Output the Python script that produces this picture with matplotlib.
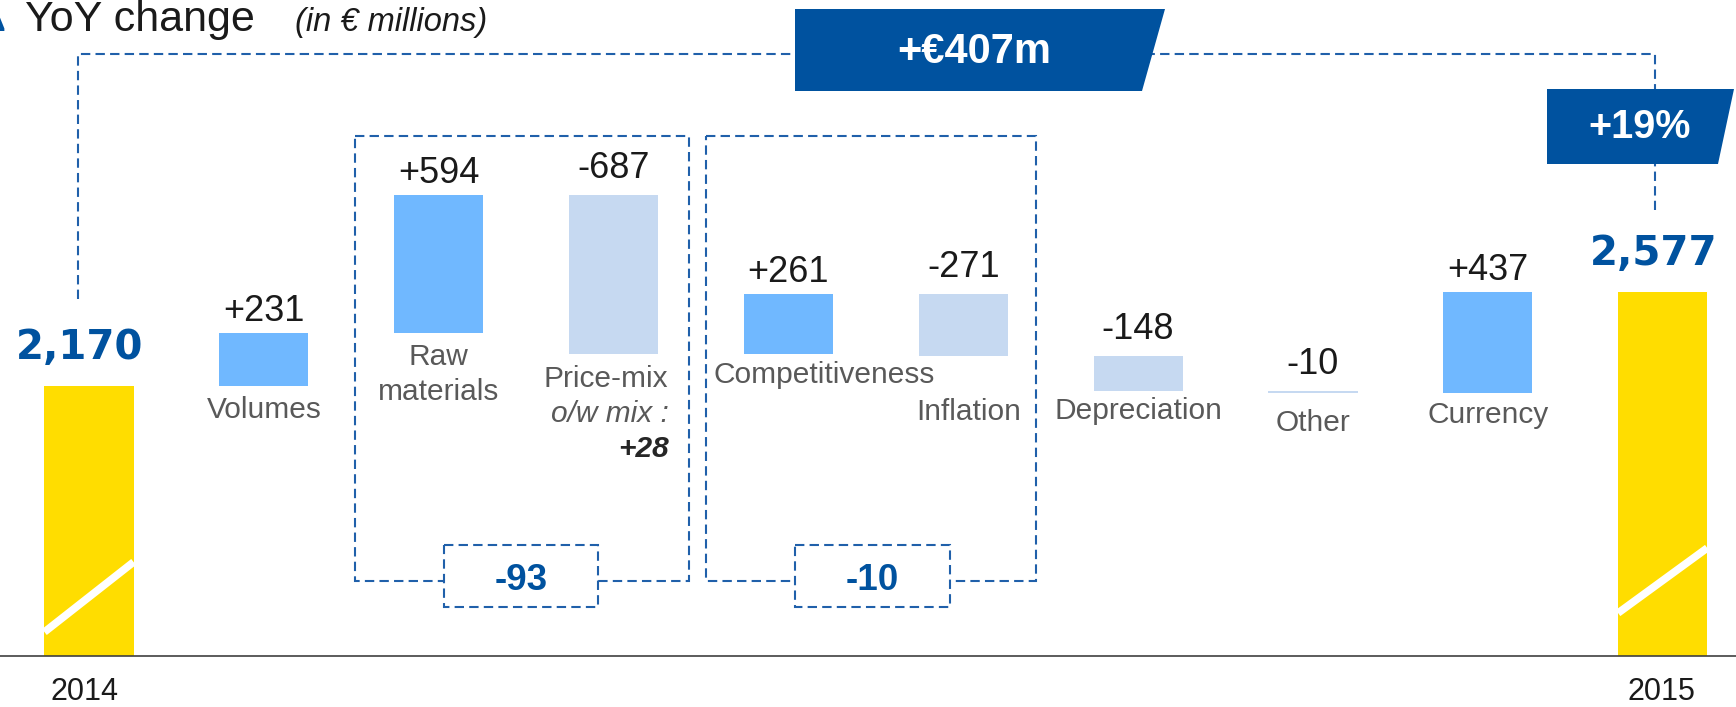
import matplotlib
matplotlib.use("Agg")
import matplotlib.pyplot as plt
from matplotlib.patches import Rectangle, Polygon
import numpy as np

# ---------------- data ----------------
year_labels = ["2014", "2015"]
start_total = 2170
end_total = 2577
categories = ["Volumes", "Raw\nmaterials", "Price-mix", "Competitiveness",
              "Inflation", "Depreciation", "Other", "Currency"]
deltas = [231, 594, -687, 261, -271, -148, -10, 437]
mix_effect = 28
group_members = [[1, 2], [3, 4]]   # indexes into deltas

# ---------------- style / layout ----------------
W, H, DPI = 1736, 707, 100
PT = DPI / 72.0
YELLOW = "#FFDD00"
POS = "#70B8FF"
NEG = "#C6D9F1"
DARK = "#00529F"
DASH = "#2060AA"
GREY = "#595959"
INK = "#1A1A1A"
plt.rcParams["font.family"] = ["Liberation Sans", "DejaVu Sans"]
DASHES = (0, (4.5, 2.5))

AXIS_PX = 656
PX_PER_UNIT = 0.2313
VAL_AT_TOP = 3839
X0, DX = 89, 174.85
BAR_W = 0.51

fig = plt.figure(figsize=(W / DPI, H / DPI), dpi=DPI)
ax = fig.add_axes([0, 1 - AXIS_PX / H, 1, AXIS_PX / H])
ax.set_xlim(-X0 / DX, (W - X0) / DX)
ybase = VAL_AT_TOP - AXIS_PX / PX_PER_UNIT
ax.set_ylim(ybase, VAL_AT_TOP)
for s in ["top", "left", "right"]:
    ax.spines[s].set_visible(False)
ax.spines["bottom"].set_color("#404040")
ax.spines["bottom"].set_linewidth(1.2)
ax.set_xticks([])
ax.set_yticks([])
ax.patch.set_alpha(0)

n = len(deltas)
xs = np.arange(1, n + 1)
ends = start_total + np.cumsum(deltas)
starts = np.r_[start_total, ends[:-1]]
lows = np.minimum(starts, ends)
highs = np.maximum(starts, ends)
total_x = [0, n + 1]
totals = [start_total, end_total]

ax.bar(total_x, totals, width=BAR_W, color=YELLOW, linewidth=0)
ax.bar(xs, np.abs(deltas), bottom=lows, width=BAR_W,
       color=[POS if d > 0 else NEG for d in deltas], linewidth=0)

# value labels
for x, d, hi in zip(xs, deltas, highs):
    off = 12 if d > 0 else 17
    ax.annotate(f"{d:+d}", (x, hi), xytext=(0, off / PT), textcoords="offset points",
                ha="center", va="baseline", fontsize=26, color=INK, annotation_clip=False)

# totals
for x, v in zip(total_x, totals):
    ax.annotate(f"{v:,}", (x, v), xytext=(-9 / PT, 27 / PT), textcoords="offset points",
                ha="center", va="baseline", fontsize=29, fontweight="bold",
                family="DejaVu Sans", color=DARK, annotation_clip=False)

# years
year_shift = [-5, -1]
for x, lab, sh in zip(total_x, year_labels, year_shift):
    ax.annotate(lab, (x, ybase), xytext=(sh / PT, -44 / PT), textcoords="offset points",
                ha="center", va="baseline", fontsize=22, color=INK, annotation_clip=False)

# category labels
label_drop = [32, 32, 33, 29, 64, 28, 38, 30]
label_shift = [0, 0, 0, 36, 5, 0, 0, 0]
LINE = 35
for i, (x, name, lo) in enumerate(zip(xs, categories, lows)):
    if name == "Price-mix":
        extra = [("Price-mix", "normal", "normal", GREY),
                 ("o/w mix :", "italic", "normal", GREY),
                 (f"{mix_effect:+d}", "italic", "bold", "#262626")]
        for k, (t, st, wt, c) in enumerate(extra):
            ax.annotate(t, (x, lo), xytext=(55 / PT, -(label_drop[i] + k * LINE) / PT),
                        textcoords="offset points", ha="right", va="baseline",
                        fontsize=21.5, style=st, fontweight=wt, color=c, annotation_clip=False)
        continue
    for k, line in enumerate(name.split("\n")):
        ax.annotate(line, (x, lo), xytext=(label_shift[i] / PT, -(label_drop[i] + k * LINE) / PT),
                    textcoords="offset points", ha="center", va="baseline",
                    fontsize=21.5, color=GREY, annotation_clip=False)

# ---------------- overlay (pixel coordinates) ----------------
ov = fig.add_axes([0, 0, 1, 1])
ov.set_xlim(0, W)
ov.set_ylim(H, 0)
ov.axis("off")


def bar_px(xi, dx_units):
    d = ax.transData.transform((xi + dx_units, ybase))
    return d[0]


# axis break marks
ov.plot([bar_px(0, -BAR_W / 2), bar_px(0, BAR_W / 2)], [632, 562],
        color="white", lw=5.5, solid_capstyle="butt", zorder=3)
ov.plot([bar_px(n + 1, -BAR_W / 2), bar_px(n + 1, BAR_W / 2)], [613, 548],
        color="white", lw=5.5, solid_capstyle="butt", zorder=3)

# title
ov.text(5, 31, "Δ", ha="right", va="baseline", fontsize=31, color=DARK)
ov.text(25, 31, "YoY change", ha="left", va="baseline", fontsize=31, color=INK)
ov.text(295, 31, "(in € millions)", ha="left", va="baseline", fontsize=23.5,
        style="italic", color=INK)

# top bracket
ov.plot([78, 78, 1655, 1655], [299, 54, 54, 210], color=DASH, lw=1.5, ls=DASHES, zorder=2)
total_change = end_total - start_total
pct = round(100 * total_change / start_total)
ov.add_patch(Polygon([(795, 9), (1165, 9), (1142, 91), (795, 91)], closed=True,
                     facecolor=DARK, edgecolor="none", zorder=4))
ov.text(974, 63, f"+€{total_change}m", ha="center", va="baseline", fontsize=30,
        fontweight="bold", color="white", zorder=5)
ov.add_patch(Polygon([(1547, 89), (1734, 89), (1718, 164), (1547, 164)], closed=True,
                     facecolor=DARK, edgecolor="none", zorder=4))
ov.text(1640, 138, f"+{pct}%", ha="center", va="baseline", fontsize=28.5,
        fontweight="bold", color="white", zorder=5)

# group boxes
group_boxes = [(355, 689), (706, 1036)]
sum_boxes = [(444, 598), (795, 950)]
for (gx0, gx1), (sx0, sx1), members in zip(group_boxes, sum_boxes, group_members):
    ov.add_patch(Rectangle((gx0, 136), gx1 - gx0, 445, fill=False, edgecolor=DASH,
                           lw=1.5, ls=DASHES, zorder=2))
    ov.add_patch(Rectangle((sx0, 545), sx1 - sx0, 62, facecolor="white", edgecolor=DASH,
                           lw=1.5, ls=DASHES, zorder=3))
    gsum = sum(deltas[j] for j in members)
    ov.text((sx0 + sx1) / 2, 590, f"{gsum:+d}" if gsum > 0 else f"{gsum}",
            ha="center", va="baseline", fontsize=26.5, fontweight="bold", color=DARK, zorder=4)

fig.savefig("out.png", dpi=DPI)
